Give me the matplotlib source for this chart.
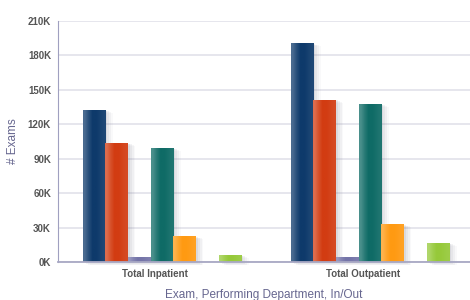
import numpy as np
import matplotlib.pyplot as plt
import matplotlib.colors as mcolors
from matplotlib.ticker import FuncFormatter

plt.rcParams['font.family'] = ['Liberation Sans', 'DejaVu Sans']

categories = ['Total Inpatient', 'Total Outpatient']
# one list per series, in thousands of exams (0 = no bar)
s_blue = [132.5, 190.6]
s_red = [103.9, 141.4]
s_purple = [4.0, 4.6]
s_teal = [99.5, 137.7]
s_orange = [22.6, 33.0]
s_empty = [0, 0]
s_green = [6.4, 16.8]

series = [s_blue, s_red, s_purple, s_teal, s_orange, s_empty, s_green]
colors = ['#0e3a6b', '#d23c12', '#7474a8', '#0f6b66', '#ff9a12', '#ffffff', '#96c93a']

fig = plt.figure(figsize=(4.7, 3.0), dpi=100)
ax = fig.add_axes([58 / 470, 38 / 300, 412 / 470, 241.3 / 300])

w = 0.109
x = np.arange(len(categories))


def shade(c):
    # light left edge fading to the darker base colour on the right
    base = np.array(mcolors.to_rgb(c))
    light = base + (1 - base) * 0.35
    mix = np.array([0.3, 0.7, 1.0, 1.0, 0.9, 0.8])
    cols = [light * (1 - m) + base * m for m in mix]
    return np.array(cols)[None, :, :]


for k, (vals, c) in enumerate(zip(series, colors)):
    if max(vals) == 0:
        continue
    offs = x + (k - 3) * w
    # soft blurred shadow, right and slightly below
    for i, a in enumerate([0.10, 0.08, 0.06, 0.04]):
        dx = w * (0.08 + 0.08 * i)
        ax.bar(offs + dx, np.array(vals) + 0.4, w, bottom=-1.2 - 0.6 * i, align='edge',
               color='#707080', alpha=a, linewidth=0, zorder=2, clip_on=False)
    bars = ax.bar(offs, vals, w, align='edge', color=c, linewidth=0, zorder=3)
    for b in bars:
        x0, y0 = b.get_x(), b.get_y()
        im = ax.imshow(shade(c), extent=[x0, x0 + b.get_width(), y0, y0 + b.get_height()],
                       aspect='auto', zorder=4, interpolation='bilinear')
        im.set_clip_path(b)

ax.set_xlim(-0.446, 1.535)
ax.set_ylim(0, 210)
ax.set_yticks(np.arange(0, 211, 30))
ax.yaxis.set_major_formatter(FuncFormatter(lambda v, p: '%dK' % v))
ax.set_xticks(x + 0.02)
ax.set_xticklabels(categories)

ax.grid(axis='y', color='#e1e1ea', linewidth=1.2, zorder=0)
ax.set_axisbelow(True)
for s in ['top', 'right']:
    ax.spines[s].set_visible(False)
ax.spines['left'].set_color('#a0a0c0')
ax.spines['bottom'].set_color('#a8a8c4')
ax.spines['bottom'].set_linewidth(1.3)
ax.spines['bottom'].set_zorder(5)
ax.tick_params(axis='both', length=0, colors='#555555', labelsize=7)
for lab in ax.get_xticklabels() + ax.get_yticklabels():
    lab.set_fontweight('bold')
ax.tick_params(axis='y', pad=5)
ax.tick_params(axis='x', pad=5)

ax.set_ylabel('# Exams', color='#66668f', fontsize=8.5, labelpad=6)
ax.set_xlabel('Exam, Performing Department, In/Out', color='#66668f', fontsize=8.5,
              labelpad=7)

fig.savefig('out.png', dpi=100)
